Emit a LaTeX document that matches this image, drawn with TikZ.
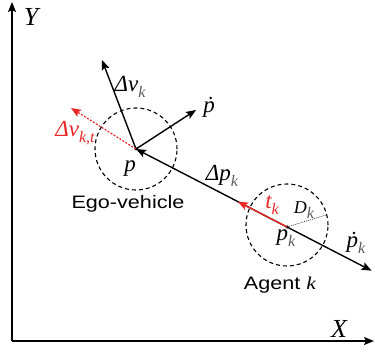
\documentclass[tikz,border=0pt]{standalone}
\usepackage{fontspec}
\setmainfont{Liberation Sans}
\newfontfamily\tms{Liberation Serif}
\usetikzlibrary{arrows.meta,calc}
\definecolor{myred}{RGB}{235,40,40}
\newcommand\sbk[1]{\raisebox{-0.25em}{\fontsize{16}{16}\selectfont\color{black!65}#1}}
\newcommand\sbr[1]{\raisebox{-0.25em}{\fontsize{16}{16}\selectfont #1}}
\tikzset{
  tip/.style={-{Stealth[length=10pt,width=8pt,inset=2pt]}},
  axis/.style={line width=1.4pt,tip},
  vec/.style={line width=1.4pt,tip},
  mlab/.style={font=\fontsize{23}{23}\selectfont\tms\itshape,inner sep=0pt},
  bigl/.style={font=\fontsize{26}{26}\selectfont\tms\itshape,inner sep=0pt},
  tlab/.style={font=\fontsize{18}{18}\selectfont,inner sep=0pt},
  zone/.style={draw,line width=1.1pt,dash pattern=on 4pt off 3pt},
  pt/.style={circle,fill,inner sep=0pt,minimum size=3.5pt}
}
\begin{document}
\begin{tikzpicture}[x=1pt,y=1pt]
\useasboundingbox (0,0) rectangle (375,351);
% axes
\coordinate (O) at (12,10);
\coordinate (Ytop) at (12,349);
\coordinate (Xend) at (374,10);
\draw[axis] (O) -- (Ytop);
\draw[axis] (O) -- (Xend);
\node[bigl] (Ylab) at (31,334) {Y};
\node[bigl] (Xlab) at (339,22) {X};
% points
\node[pt] (P) at (136,202) {};
\node[pt] (Pk) at (287,124) {};
% circles
\draw[zone] (P.center) circle (41);
\draw[zone] (287,126) circle (41);
% vectors
\coordinate (DV) at (102,291);
\coordinate (PD) at (196,241);
\coordinate (DVT) at (71,243);
\coordinate (PKD) at ($(Pk)!-0.56!(P)$);
\coordinate (TK) at ($(Pk)!0.325!(P)$);
\coordinate (DK) at (326,136);
\draw[vec] (P.center) -- (DV);
\draw[vec] (P.center) -- (PD);
\draw[vec,myred,line width=1.2pt,dash pattern=on 2pt off 1.5pt] (P.center) -- (DVT);
\draw[vec] (Pk.center) -- (P.center);
\draw[vec] (Pk.center) -- (PKD);
\draw[vec,myred,line width=1.4pt] (Pk.center) -- (TK);
\draw[line width=0.5pt,dash pattern=on 1pt off 1pt] (Pk.center) -- (DK);
% labels
\node[mlab] (ldv) at (130,264) {Δv\sbk{k}};
\node[mlab] (lpd) at (209,244) {\.{p}};
\node[mlab,myred] (ldvt) at (75,218) {Δv\sbr{k,t}};
\node[mlab] (lp) at (130,182) {p};
\node[mlab] (ldp) at (222,175) {Δp\sbk{k}};
\node[mlab,myred] (ltk) at (272,146) {t\sbr{k}};
\node[mlab,font=\fontsize{18}{18}\selectfont\tms\itshape] (ldk) at (304,141) {D\sbk{k}};
\node[mlab] (lpk) at (286,113) {p\sbk{k}};
\node[mlab] (lpkd) at (356,108) {\.{p}\sbk{k}};
\node[tlab] (lego) at (128,147) {\scalebox{1.2}[1]{Ego-vehicle}};
\node[tlab] (lag) at (280,66) {\scalebox{1.2}[1]{Agent {\tms\itshape k}}};
\end{tikzpicture}
\end{document}
